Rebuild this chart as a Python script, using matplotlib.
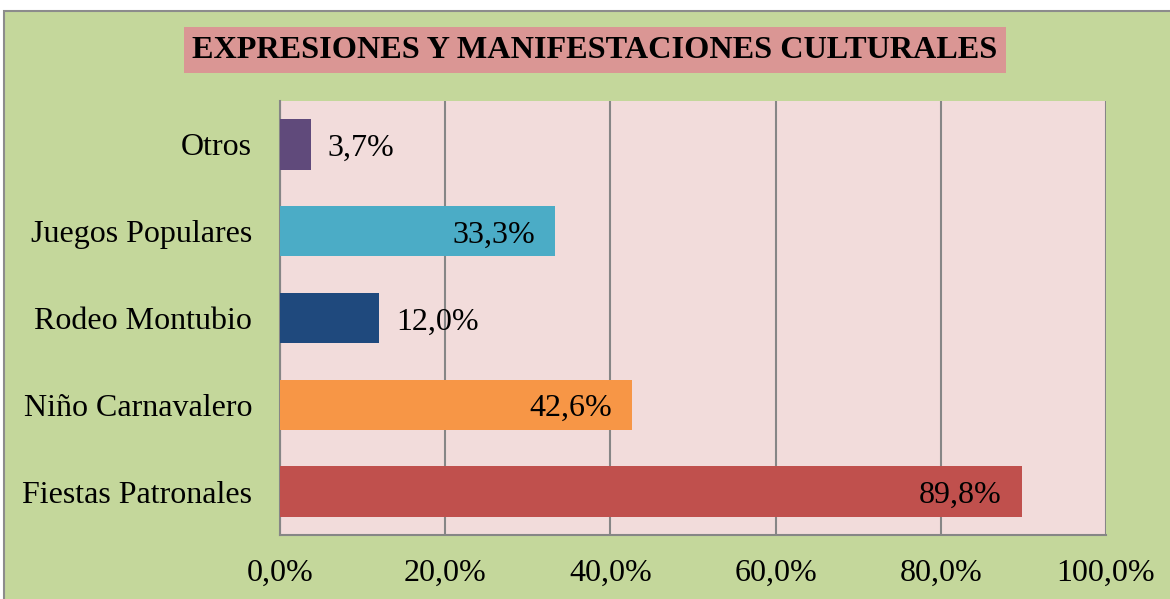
import matplotlib
matplotlib.use("Agg")
import matplotlib.pyplot as plt
from matplotlib.patches import Rectangle
from matplotlib.ticker import FuncFormatter, MultipleLocator

# datos (de abajo hacia arriba)
categorias = ["Fiestas Patronales", "Niño Carnavalero", "Rodeo Montubio",
              "Juegos Populares", "Otros"]
porcentajes = [89.8, 42.6, 12.0, 33.3, 3.7]
colores = ["#C0504D", "#F79646", "#1F497D", "#4BACC6", "#604A7B"]
etiqueta_dentro = [True, True, False, True, False]
titulo = "EXPRESIONES Y MANIFESTACIONES CULTURALES"

plt.rcParams['font.family'] = ['Liberation Serif', 'DejaVu Serif']

W, H = 1170, 599
fig = plt.figure(figsize=(W / 100, H / 100), dpi=100)
fig.patch.set_facecolor("white")

# fondo verde con borde gris
fondo = Rectangle((4 / W, -0.05), 1.1, 1 - 11 / H + 0.05, transform=fig.transFigure,
                  facecolor="#C4D79B", edgecolor="#8C8C8C", linewidth=1.5, zorder=-10)
fig.patches.append(fondo)

ax = fig.add_axes([280 / W, 1 - 535 / H, (1106 - 280) / W, (535 - 101) / H])
ax.set_zorder(1)
ax.set_facecolor("#F2DCDB")

y = range(len(categorias))
bars = ax.barh(y, porcentajes, height=0.58, color=colores, zorder=3)

ax.set_xlim(0, 100)
ax.set_ylim(-0.5, len(categorias) - 0.5)
ax.xaxis.set_major_locator(MultipleLocator(20))
ax.xaxis.set_major_formatter(FuncFormatter(lambda v, p: f"{v:.1f}%".replace(".", ",")))
ax.set_yticks(list(y))
ax.set_yticklabels(categorias)
ax.tick_params(axis="both", length=0, labelsize=23)
ax.tick_params(axis="x", pad=17)
ax.tick_params(axis="y", pad=20)
ax.grid(axis="x", color="#868686", linewidth=1.5, zorder=1)

for s in ["top", "right"]:
    ax.spines[s].set_visible(False)
for s in ["left", "bottom"]:
    ax.spines[s].set_color("#868686")
    ax.spines[s].set_linewidth(1.5)

# etiquetas de datos
for b, v, dentro in zip(bars, porcentajes, etiqueta_dentro):
    txt = f"{v:.1f}%".replace(".", ",")
    yc = b.get_y() + b.get_height() / 2
    if dentro:
        ax.annotate(txt, (v, yc), xytext=(-20, -4), textcoords="offset pixels",
                    ha="right", va="center", fontsize=23, zorder=4)
    else:
        ax.annotate(txt, (v, yc), xytext=(17, -4), textcoords="offset pixels",
                    ha="left", va="center", fontsize=23, zorder=4)

fig.text(595 / W, 1 - 50 / H, titulo, ha="center", va="center", fontsize=23.2,
         fontweight="bold",
         bbox=dict(boxstyle="square,pad=0.25", facecolor="#DA9694", edgecolor="none"))

fig.savefig("out.png", dpi=100)
